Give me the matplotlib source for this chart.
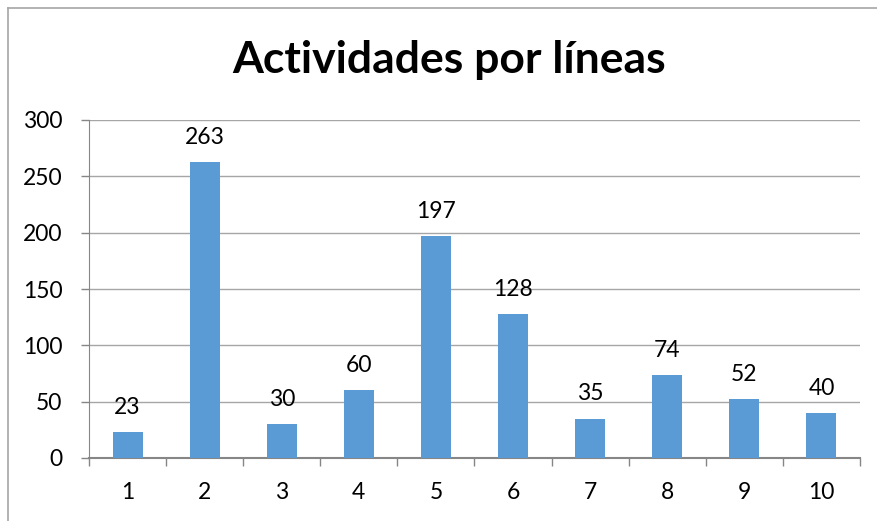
import matplotlib
matplotlib.use('Agg')
import matplotlib.pyplot as plt
from matplotlib.lines import Line2D

# values
categorias = ['1', '2', '3', '4', '5', '6', '7', '8', '9', '10']
actividades = [23, 263, 30, 60, 197, 128, 35, 74, 52, 40]
titulo = 'Actividades por líneas'

plt.rcParams['font.family'] = ['Lato', 'DejaVu Sans']

fig = plt.figure(figsize=(8.78, 5.21), dpi=100)
ax = fig.add_axes([89 / 878, 1 - 458 / 521, (860 - 89) / 878, (458 - 120) / 521])

x = list(range(len(categorias)))
bars = ax.bar(x, actividades, width=0.39, color='#5B9BD5', zorder=3)
for b, v in zip(bars, actividades):
    ax.text(b.get_x() + b.get_width() / 2, v + 12.5, str(v), ha='center', va='bottom',
            fontsize=16.5, color='black')

ax.set_xlim(-0.5, len(categorias) - 0.5)
ax.set_ylim(0, 300)
ax.set_yticks(range(0, 301, 50))
ax.yaxis.grid(True, color='#A6A6A6', linewidth=1, zorder=0)

# category labels centred, tick marks at category boundaries
ax.set_xticks(x)
ax.set_xticklabels(categorias, fontsize=16.5)
ax.tick_params(axis='x', length=0, pad=17)
ax.set_xticks([i - 0.5 for i in range(len(categorias) + 1)], minor=True)
ax.tick_params(axis='x', which='minor', length=6, color='#868686', width=1, direction='out')
ax.tick_params(axis='y', labelsize=16.5, length=6, color='#868686', width=1, pad=13)

for s in ['top', 'right']:
    ax.spines[s].set_visible(False)
ax.spines['left'].set_color('#868686')
ax.spines['bottom'].set_color('#868686')
ax.spines['bottom'].set_linewidth(1.5)

fig.text(449 / 878, 1 - 60 / 521, titulo, ha='center', va='center',
         fontsize=32, fontweight='bold')

# chart area border (left and top edge visible)
fig.add_artist(Line2D([8 / 878, 8 / 878], [0, 1 - 8 / 521], color='#A6A6A6', lw=1.2,
                      transform=fig.transFigure))
fig.add_artist(Line2D([8 / 878, 1], [1 - 8 / 521, 1 - 8 / 521], color='#A6A6A6', lw=1.2,
                      transform=fig.transFigure))

fig.savefig('out.png', dpi=100)
